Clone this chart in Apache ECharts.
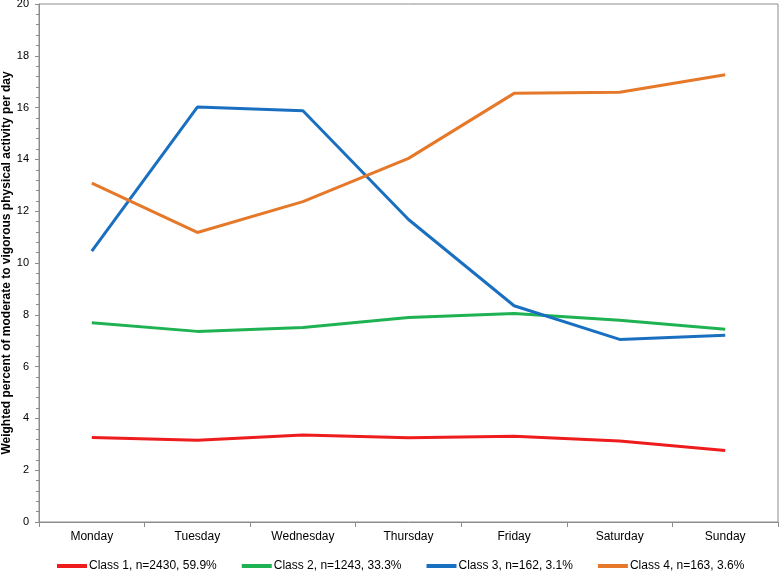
<!DOCTYPE html>
<html>
<head>
<meta charset="utf-8">
<script src="https://cdn.jsdelivr.net/npm/echarts@6/dist/echarts.min.js"></script>
<style>html,body{margin:0;padding:0;background:#fff}#c{width:779px;height:578px}</style>
</head>
<body>
<div id="c"></div>
<script>
const categories = ['Monday','Tuesday','Wednesday','Thursday','Friday','Saturday','Sunday'];
const seriesNames = ['Class 1, n=2430, 59.9%','Class 2, n=1243, 33.3%','Class 3, n=162, 3.1%','Class 4, n=163, 3.6%'];
const class1 = [3.26, 3.16, 3.36, 3.25, 3.31, 3.13, 2.76];
const class2 = [7.69, 7.36, 7.51, 7.90, 8.05, 7.79, 7.44];
const class3 = [10.46, 16.02, 15.88, 11.68, 8.35, 7.05, 7.21];
const class4 = [13.08, 11.18, 12.37, 14.04, 16.55, 16.59, 17.27];
const yTicks = [0, 20, 2];
const yTitle = 'Weighted percent of moderate to vigorous physical activity per day';
const colors = ['#ee1c1c','#1fb253','#1a70c0','#e6782a'];
const chart = echarts.init(document.getElementById('c'));
const font = 'Liberation Sans, Arial, sans-serif';
const data = [class1, class2, class3, class4];
chart.setOption({
  animation: false,
  textStyle: {fontFamily: font},
  grid: {left: 39, top: 4, right: 1, bottom: 56, show: true, borderColor: '#8c8c8c', borderWidth: 1, containLabel: false, outerBoundsMode: 'none'},
  graphic: [{
    type: 'text', x: 7, y: 263, rotation: Math.PI / 2,
    style: {text: yTitle, fill: '#000', font: 'bold 12px ' + font, align: 'center', verticalAlign: 'middle'}
  }],
  legend: {
    bottom: 1, left: 52, itemWidth: 30, itemHeight: 4, itemGap: 25, icon: 'rect',
    textStyle: {fontFamily: font, fontSize: 12, color: '#000', padding: [0,0,0,-3]},
    data: seriesNames
  },
  xAxis: {
    type: 'category', data: categories, boundaryGap: true,
    axisLine: {lineStyle: {color: '#8c8c8c'}},
    axisTick: {show: true, length: 5, lineStyle: {color: '#8c8c8c'}},
    axisLabel: {color: '#000', fontSize: 12, fontFamily: font, margin: 9}
  },
  yAxis: {
    type: 'value', min: yTicks[0], max: yTicks[1], interval: yTicks[2],
    axisLine: {show: true, lineStyle: {color: '#8c8c8c'}},
    axisTick: {show: true, length: 4, lineStyle: {color: '#8c8c8c'}},
    minorTick: {show: true, splitNumber: 5, length: 3, lineStyle: {color: '#8c8c8c'}},
    splitLine: {show: false},
    axisLabel: {color: '#000', fontSize: 11, fontFamily: font, margin: 10}
  },
  series: data.map((d, i) => ({
    name: seriesNames[i], type: 'line', data: d, symbol: 'none',
    itemStyle: {color: colors[i]},
    lineStyle: {color: colors[i], width: 3}
  }))
});
</script>
</body>
</html>
